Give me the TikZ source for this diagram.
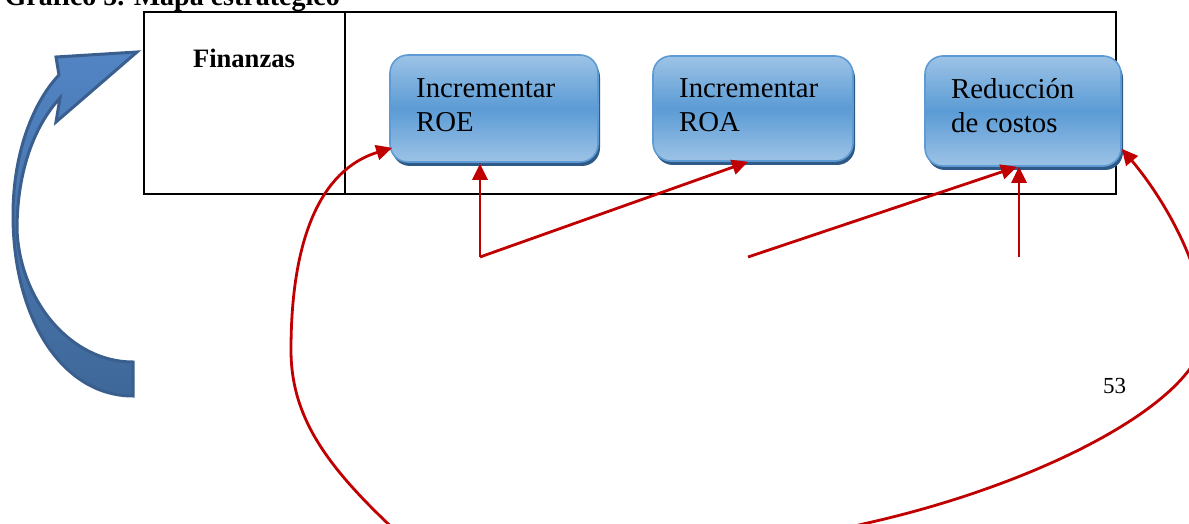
\documentclass[tikz,border=0pt]{standalone}
\usepackage{fontspec}
\setmainfont{Liberation Serif}
\usetikzlibrary{arrows.meta,calc}

\definecolor{linkred}{HTML}{C00000}
\definecolor{boxlight}{HTML}{9DC3E6}
\definecolor{boxmid}{HTML}{5B9BD5}
\definecolor{boxedge}{HTML}{5E9AD3}
\definecolor{boxshade}{HTML}{2F5A88}
\definecolor{bendtop}{HTML}{5284C4}
\definecolor{bendbottom}{HTML}{3F6899}
\definecolor{bendedge}{HTML}{3A5F8E}

\begin{document}
\begin{tikzpicture}[x=1pt,y=-1pt,
  frame/.style={draw=black,line width=2.4pt},
  goal/.style={rectangle,rounded corners=18pt,draw=boxedge,line width=1.6pt,
    top color=boxlight,bottom color=boxlight,middle color=boxmid,inner sep=0pt,
    preaction={fill=boxshade,transform canvas={xshift=2pt,yshift=-4pt}}},
  goaltext/.style={anchor=base west,inner sep=0pt,font=\fontsize{28.8}{34}\selectfont},
  link/.style={draw=linkred,line width=2.8pt,-{Triangle[length=16pt,width=15pt]}},
  bothlink/.style={draw=linkred,line width=2.8pt,
    {Triangle[length=16pt,width=15pt]}-{Triangle[length=16pt,width=15pt]}},
  bentarrow/.style={top color=bendtop,bottom color=bendbottom,draw=bendedge,line width=3pt,line join=miter}
]
\useasboundingbox (0,0) rectangle (1189,524);

% caption, partly cut off at the top edge
\node[anchor=base east,inner sep=0pt,font=\bfseries\fontsize{28}{30}\selectfont] (caption) at (340,6) {Gráfico 5. Mapa estratégico};

% curved block arrow on the left
\path[bentarrow] (133,396) .. controls (62,396) and (13,318) .. (13,215)
  .. controls (13,150) and (35,100) .. (59,75)
  -- (56,57) -- (137,52) -- (56,122) -- (60,98)
  .. controls (35,125) and (17,170) .. (17,230)
  .. controls (20,300) and (70,362) .. (133,362) -- cycle;

% perspective panel
\draw[frame] (144,12) rectangle (1116,194);
\draw[frame] (345,12) -- (345,194);
\node[anchor=base,inner sep=0pt,font=\bfseries\fontsize{26.6}{30}\selectfont] (persp) at (244,68) {Finanzas};

% objectives
\node[goal,minimum width=208pt,minimum height=107pt] (roe) at (494,108.5) {};
\node[goal,minimum width=200pt,minimum height=105pt] (roa) at (753,108.5) {};
\node[goal,minimum width=196pt,minimum height=110pt] (cost) at (1023,111) {};
\node[goaltext] (roetext) at (416,98) {\begin{tabular}[t]{@{}l@{}}Incrementar\\ROE\end{tabular}};
\node[goaltext] (roatext) at (679,98) {\begin{tabular}[t]{@{}l@{}}Incrementar\\ROA\end{tabular}};
\node[goaltext] (costtext) at (951,99) {\begin{tabular}[t]{@{}l@{}}Reducción\\de costos\end{tabular}};

% page number
\node[anchor=base west,inner sep=0pt,font=\fontsize{23}{26}\selectfont] (pageno) at (1103,393) {53};

% cause-effect links
\coordinate (src1) at (480,257);
\coordinate (src2) at (748,257);
\coordinate (src3) at (1019,257);
\draw[link] (src1) -- ([yshift=-1pt]src1 |- roe.south);
\draw[link] (src1) -- ([xshift=-5pt]roa.south);
\draw[link] (src2) -- ([xshift=-6pt]cost.south);
\draw[link] (src3) -- (src3 |- cost.south);
\draw[bothlink] ($(cost.south east)+(0,-18)$)
  .. controls (1165,200) and (1205,270) .. (1205,330)
  .. controls (1205,400) and (1040,485) .. (863,524)
  .. controls (700,565) and (470,600) .. (400,535)
  .. controls (330,470) and (291,420) .. (291,350)
  .. controls (291,240) and (320,170) .. ($(roe.south west)+(3,-15)$);
\end{tikzpicture}
\end{document}
